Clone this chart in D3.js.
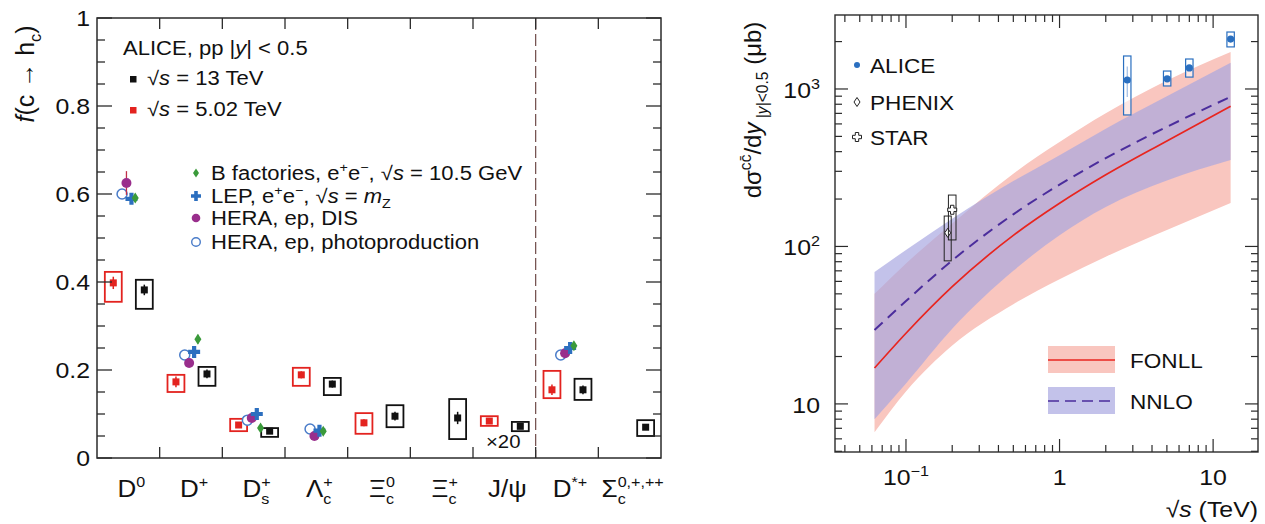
<!DOCTYPE html>
<html>
<head>
<meta charset="utf-8">
<script src="https://cdn.jsdelivr.net/npm/d3@7"></script>
<style>
  body { margin: 0; background: #fff; }
  svg { display: block; }
  text { font-family: "Liberation Sans", Arial, Helvetica, sans-serif; fill: #111; }
</style>
</head>
<body>
<svg id="chart" width="1265" height="524"></svg>
<script>
// ---------------- Left panel: charm fragmentation fractions ----------------
const hadrons = ["D0", "D+", "Ds+", "Lc+", "Xic0", "Xic+", "Jpsi", "D*+", "Sc"];

// ALICE pp 13 TeV: value, systematic box upper / lower edge, statistical error
const alice13     = [0.382, 0.191, 0.061, 0.168, 0.095, 0.091, 0.072, 0.155, 0.070];
const alice13SysH = [0.405, 0.207, 0.068, 0.182, 0.120, 0.134, 0.082, 0.180, 0.086];
const alice13SysL = [0.339, 0.164, 0.048, 0.143, 0.070, 0.043, 0.061, 0.132, 0.050];
const alice13Stat = [0.012, 0.010, 0.004, 0.008, 0.010, 0.014, 0.004, 0.010, 0.006];

// ALICE pp 5.02 TeV (no Xi_c+ and Sigma_c measurements)
const alice5      = [0.398, 0.173, 0.075, 0.189, 0.080, null, 0.084, 0.155, null];
const alice5SysH  = [0.423, 0.189, 0.089, 0.205, 0.102, null, 0.095, 0.198, null];
const alice5SysL  = [0.355, 0.150, 0.061, 0.164, 0.055, null, 0.073, 0.136, null];
const alice5Stat  = [0.014, 0.012, 0.004, 0.008, 0.008, null, 0.004, 0.012, null];

// e+e- and ep reference measurements
const bFactories  = [0.591, 0.270, 0.068, 0.061, null, null, null, 0.255, null];
const bFactErr    = [0.006, 0.010, 0.004, 0.004, null, null, null, 0.006, null];
const lepZ        = [0.589, 0.241, 0.100, 0.062, null, null, null, 0.250, null];
const lepErr      = [0.008, 0.008, 0.006, 0.005, null, null, null, 0.006, null];
const heraDIS     = [0.625, 0.216, 0.091, 0.050, null, null, null, 0.238, null];
const heraDISErr  = [0.027, 0.008, 0.006, 0.006, null, null, null, 0.006, null];
const heraPhoto   = [0.600, 0.234, 0.086, 0.066, null, null, null, 0.234, null];
const heraPhErr   = [0.006, 0.006, 0.004, 0.005, null, null, null, 0.006, null];

const yTickLabels = ["0", "0.2", "0.4", "0.6", "0.8", "1"];

// ---------------- Right panel: charm production cross section ----------------
const sqrtS        = [0.0624, 0.1, 0.2, 0.5, 1, 2, 5, 13];
const fonllCentral = [16.9, 28.1, 55.5, 117.5, 188, 285, 468, 778];
const fonllUpper   = [50, 78, 140, 290, 460, 700, 1130, 1718];
const fonllLower   = [6.6, 12, 23.5, 43, 62, 86, 127, 189];
const nnloCentral  = [29.5, 45, 81.5, 160, 247, 364, 575, 891];
const nnloUpper    = [68.8, 95, 150, 260, 380, 560, 900, 1470];
const nnloLower    = [8, 13.5, 30, 70, 118, 178, 262, 354];

const aliceEnergy  = [2.76, 5.02, 7, 13];
const aliceXsec    = [1140, 1160, 1360, 2076];
const aliceSysHi   = [1620, 1300, 1550, 2300];
const aliceSysLo   = [684, 1045, 1190, 1850];
const aliceStatErr = [250, 40, 60, 80];

const phenixEnergy = [0.2], phenixXsec = [122], phenixSysHi = [156], phenixSysLo = [81];
const starEnergy   = [0.2], starXsec   = [171], starSysHi   = [212], starSysLo   = [110];

// ---------------- helpers ----------------
const SX = 1.13;      // horizontal text stretch
const svg = d3.select("#chart");
const INK = "#2b2b2b";

// rich text: parts = [[string, kind]], kind in "", "i", "sup", "sub", "subi"
function rich(g, x, y, parts, opt) {
  const size = opt.size;
  const tr = opt.rotate ? `translate(${x},${y}) rotate(-90)` : `translate(${x},${y}) scale(${opt.sx ?? SX},1)`;
  const t = g.append("text").attr("transform", tr)
    .attr("font-size", size).attr("text-anchor", opt.anchor || "start");
  let cur = 0;
  parts.forEach(([s, k]) => {
    const target = k === "sup" ? -0.42 * size : (k === "sub" || k === "subi") ? 0.28 * size : 0;
    const ts = t.append("tspan").text(s).attr("dy", target - cur);
    cur = target;
    if (k === "sup" || k === "sub" || k === "subi") ts.attr("font-size", 0.65 * size);
    if (k === "i" || k === "subi") ts.attr("font-style", "italic");
  });
  return t;
}

// label with stacked subscript and superscript after a base symbol
function hadronLabel(g, x, y, base, sup, sub, size) {
  const t = g.append("text").attr("transform", `translate(${x},${y}) scale(${SX},1)`)
    .attr("font-size", size).attr("text-anchor", "middle");
  t.append("tspan").text(base);
  let subW = 0;
  if (sub) {
    const s = t.append("tspan").text(sub).attr("font-size", size * 0.62).attr("dy", size * 0.3);
    subW = s.node().getComputedTextLength();
  }
  if (sup) {
    t.append("tspan").text(sup).attr("font-size", size * 0.62)
      .attr("dy", sub ? -size * 0.72 : -size * 0.42)
      .attr("dx", sub ? -subW : 0);
  }
  return t;
}

const diamondPath = (w, h) => `M0,${-h/2} L${w/2},0 L0,${h/2} L${-w/2},0 Z`;
const crossPath = (s, a) => `M${-a},${-s} H${a} V${-a} H${s} V${a} H${a} V${s} H${-a} V${a} H${-s} V${-a} H${-a} Z`;

// ================= LEFT PANEL =================
const L = { left: 97, right: 661, top: 18, bottom: 458 };
const xb = d3.scaleBand().domain(hadrons).range([L.left, L.right]);
const yf = d3.scaleLinear().domain([0, 1]).range([L.bottom, L.top]);
const bw = xb.bandwidth();
const cx = (i, f) => xb(hadrons[i]) + bw / 2 + f * bw;
const gl = svg.append("g");

// separator between ground-state hadrons and D*+ / Sigma_c
gl.append("line")
  .attr("x1", xb("D*+")).attr("x2", xb("D*+"))
  .attr("y1", L.top).attr("y2", L.bottom)
  .attr("stroke", "#6e4a48").attr("stroke-width", 1.2).attr("stroke-dasharray", "12,4");

// ALICE boxes and points
function aliceSeries(vals, hi, lo, st, color, f) {
  vals.forEach((v, i) => {
    if (v == null) return;
    const x = cx(i, f);
    gl.append("rect").attr("x", x - bw * 0.135).attr("width", bw * 0.27)
      .attr("y", yf(hi[i])).attr("height", yf(lo[i]) - yf(hi[i]))
      .attr("fill", "none").attr("stroke", color).attr("stroke-width", 1.8);
    gl.append("line").attr("x1", x).attr("x2", x)
      .attr("y1", yf(v + st[i])).attr("y2", yf(v - st[i]))
      .attr("stroke", color).attr("stroke-width", 1.5);
    gl.append("rect").attr("x", x - 3.5).attr("y", yf(v) - 3.5)
      .attr("width", 7).attr("height", 7).attr("fill", color);
  });
}
aliceSeries(alice5, alice5SysH, alice5SysL, alice5Stat, "#e3231f", -0.24);
aliceSeries(alice13, alice13SysH, alice13SysL, alice13Stat, "#111111", 0.255);

// reference measurements
function refSeries(vals, errs, f, color, draw) {
  vals.forEach((v, i) => {
    if (v == null) return;
    const x = cx(i, f);
    gl.append("line").attr("x1", x).attr("x2", x)
      .attr("y1", yf(v + errs[i])).attr("y2", yf(v - errs[i]))
      .attr("stroke", color).attr("stroke-width", 1.3);
    draw(gl.append("g").attr("transform", `translate(${x},${yf(v)})`));
  });
}
const C_B = "#3a9a3a", C_LEP = "#2c6fbf", C_DIS = "#992e8c", C_PH = "#4a7cc9";
refSeries(heraPhoto, heraPhErr, -0.1, C_PH, g => g.append("circle").attr("r", 5)
  .attr("fill", "#fff").attr("stroke", C_PH).attr("stroke-width", 1.5));
refSeries(heraDIS, heraDISErr, -0.03, "#c0304a", g => g.append("circle").attr("r", 5).attr("fill", C_DIS));
refSeries(lepZ, lepErr, 0.05, C_LEP, g => g.append("path").attr("d", crossPath(6, 2.1)).attr("fill", C_LEP));
refSeries(bFactories, bFactErr, 0.11, C_B, g => g.append("path").attr("d", diamondPath(7, 11)).attr("fill", C_B));

// frame
gl.append("rect").attr("x", L.left).attr("y", L.top)
  .attr("width", L.right - L.left).attr("height", L.bottom - L.top)
  .attr("fill", "none").attr("stroke", INK).attr("stroke-width", 1.5);

// y ticks (both sides)
d3.range(0, 21).map(k => k * 0.05).forEach(v => {
  const major = Math.abs(v * 5 - Math.round(v * 5)) < 1e-6;
  const len = major ? 15 : 8;
  const y = yf(v);
  gl.append("line").attr("x1", L.left).attr("x2", L.left + len).attr("y1", y).attr("y2", y)
    .attr("stroke", INK).attr("stroke-width", 1.3);
  gl.append("line").attr("x1", L.right).attr("x2", L.right - len).attr("y1", y).attr("y2", y)
    .attr("stroke", INK).attr("stroke-width", 1.3);
});
yf.ticks(5).forEach((v, i) => {
  rich(gl, 90, yf(v) + 8, [[yTickLabels[i], ""]], { size: 22, anchor: "end" });
});
// x ticks at category boundaries
hadrons.slice(1).forEach(h => {
  const x = xb(h);
  gl.append("line").attr("x1", x).attr("x2", x).attr("y1", L.bottom).attr("y2", L.bottom - 11)
    .attr("stroke", INK).attr("stroke-width", 1.3);
  gl.append("line").attr("x1", x).attr("x2", x).attr("y1", L.top).attr("y2", L.top + 11)
    .attr("stroke", INK).attr("stroke-width", 1.3);
});

// category labels
const labelParts = {
  "D0": ["D", "0", null], "D+": ["D", "+", null], "Ds+": ["D", "+", "s"],
  "Lc+": ["Λ", "+", "c"], "Xic0": ["Ξ", "0", "c"], "Xic+": ["Ξ", "+", "c"],
  "Jpsi": ["J/ψ", null, null], "D*+": ["D", "*+", null], "Sc": ["Σ", "0,+,++", "c"]
};
hadrons.forEach(h => {
  const [b, sp, sb] = labelParts[h];
  hadronLabel(gl, xb(h) + bw / 2 + 3, 497, b, sp, sb, 23);
});

// y-axis title
rich(gl, 34, 74, [["f", "i"], ["(c → h", ""], ["c", "sub"], [")", ""]], { size: 25, anchor: "middle", rotate: true });

// J/psi scale note
rich(gl, 486, 448, [["×20", ""]], { size: 18 });

// legends
rich(gl, 123, 55, [["ALICE, pp |", ""], ["y", "i"], ["| < 0.5", ""]], { size: 19.5 });
gl.append("rect").attr("x", 130).attr("y", 76).attr("width", 6.5).attr("height", 6.5).attr("fill", "#111");
rich(gl, 147, 85, [["√", ""], ["s", "i"], [" = 13 TeV", ""]], { size: 19.5 });
gl.append("rect").attr("x", 130).attr("y", 107).attr("width", 6.5).attr("height", 6.5).attr("fill", "#e3231f");
rich(gl, 147, 116, [["√", ""], ["s", "i"], [" = 5.02 TeV", ""]], { size: 19.5 });

const lg = gl.append("g");
lg.append("path").attr("d", diamondPath(6, 9)).attr("transform", "translate(196,173)").attr("fill", C_B);
rich(lg, 211, 180, [["B factories, e", ""], ["+", "sup"], ["e", ""], ["−", "sup"], [", √", ""], ["s", "i"], [" = 10.5 GeV", ""]], { size: 19.5 });
lg.append("path").attr("d", crossPath(5, 1.8)).attr("transform", "translate(196,196)").attr("fill", C_LEP);
rich(lg, 211, 203, [["LEP, e", ""], ["+", "sup"], ["e", ""], ["−", "sup"], [", √", ""], ["s", "i"], [" = ", ""], ["m", "i"], ["Z", "sub"]], { size: 19.5 });
lg.append("circle").attr("cx", 196).attr("cy", 218).attr("r", 4.3).attr("fill", C_DIS);
rich(lg, 211, 225, [["HERA, ep, DIS", ""]], { size: 19.5 });
lg.append("circle").attr("cx", 196).attr("cy", 242).attr("r", 4.3).attr("fill", "#fff")
  .attr("stroke", C_PH).attr("stroke-width", 1.4);
rich(lg, 211, 249, [["HERA, ep, photoproduction", ""]], { size: 19.5 });

// ================= RIGHT PANEL =================
const R = { left: 835, right: 1258, top: 15, bottom: 452 };
const xs = d3.scaleLog().domain([0.0345, 19.6]).range([R.left, R.right]);
const ys = d3.scaleLog().domain([4.95, 2950]).range([R.bottom, R.top]);
const gr = svg.append("g");

const band = (up, lo) => d3.area()
  .x((d, i) => xs(sqrtS[i])).y0((d, i) => ys(lo[i])).y1((d, i) => ys(up[i]))
  .curve(d3.curveMonotoneX)(sqrtS);
const curve = vals => d3.line()
  .x((d, i) => xs(sqrtS[i])).y((d, i) => ys(vals[i]))
  .curve(d3.curveMonotoneX)(sqrtS);

const FONLL_FILL = "#f9c6bf", NNLO_FILL = "#a6a5e0", NNLO_OP = 0.68;
gr.append("path").attr("d", band(fonllUpper, fonllLower)).attr("fill", FONLL_FILL);
gr.append("path").attr("d", band(nnloUpper, nnloLower)).attr("fill", NNLO_FILL).attr("fill-opacity", NNLO_OP);
gr.append("path").attr("d", curve(fonllCentral)).attr("fill", "none")
  .attr("stroke", "#e8251f").attr("stroke-width", 1.7);
gr.append("path").attr("d", curve(nnloCentral)).attr("fill", "none")
  .attr("stroke", "#4b2d9c").attr("stroke-width", 2).attr("stroke-dasharray", "11,7");

// ALICE measurements
const C_AL = "#2a6fc0";
aliceEnergy.forEach((e, i) => {
  const x = xs(e);
  gr.append("rect").attr("x", x - 3.7).attr("width", 7.4)
    .attr("y", ys(aliceSysHi[i])).attr("height", ys(aliceSysLo[i]) - ys(aliceSysHi[i]))
    .attr("fill", "#fff").attr("fill-opacity", 0.6).attr("stroke", C_AL).attr("stroke-width", 1.2);
  gr.append("line").attr("x1", x).attr("x2", x)
    .attr("y1", ys(aliceXsec[i] + aliceStatErr[i])).attr("y2", ys(aliceXsec[i] - aliceStatErr[i]))
    .attr("stroke", "#9dbbe3").attr("stroke-width", 1.2);
  gr.append("circle").attr("cx", x).attr("cy", ys(aliceXsec[i])).attr("r", 3.6).attr("fill", C_AL);
});
// PHENIX and STAR
phenixEnergy.forEach((e, i) => {
  const x = xs(e) - 4.5;
  gr.append("rect").attr("x", x - 3.5).attr("width", 7)
    .attr("y", ys(phenixSysHi[i])).attr("height", ys(phenixSysLo[i]) - ys(phenixSysHi[i]))
    .attr("fill", "none").attr("stroke", "#222").attr("stroke-width", 1);
  gr.append("path").attr("d", diamondPath(6, 9)).attr("transform", `translate(${x},${ys(phenixXsec[i])})`)
    .attr("fill", "#fff").attr("stroke", "#222").attr("stroke-width", 1);
});
starEnergy.forEach((e, i) => {
  const x = xs(e);
  gr.append("rect").attr("x", x - 3.8).attr("width", 7.6)
    .attr("y", ys(starSysHi[i])).attr("height", ys(starSysLo[i]) - ys(starSysHi[i]))
    .attr("fill", "none").attr("stroke", "#222").attr("stroke-width", 1);
  gr.append("path").attr("d", crossPath(4.5, 1.7)).attr("transform", `translate(${x},${ys(starXsec[i])})`)
    .attr("fill", "#fff").attr("stroke", "#222").attr("stroke-width", 1);
});

// frame
gr.append("rect").attr("x", R.left).attr("y", R.top)
  .attr("width", R.right - R.left).attr("height", R.bottom - R.top)
  .attr("fill", "none").attr("stroke", INK).attr("stroke-width", 1.4);

const isDecade = v => Math.abs(Math.log10(v) - Math.round(Math.log10(v))) < 1e-6;
xs.ticks().forEach(v => {
  const x = xs(v), len = isDecade(v) ? 13 : 7;
  gr.append("line").attr("x1", x).attr("x2", x).attr("y1", R.bottom).attr("y2", R.bottom - len)
    .attr("stroke", INK).attr("stroke-width", 1.2);
  gr.append("line").attr("x1", x).attr("x2", x).attr("y1", R.top).attr("y2", R.top + len)
    .attr("stroke", INK).attr("stroke-width", 1.2);
});
ys.ticks().forEach(v => {
  const y = ys(v), len = isDecade(v) ? 13 : 7;
  gr.append("line").attr("x1", R.left).attr("x2", R.left + len).attr("y1", y).attr("y2", y)
    .attr("stroke", INK).attr("stroke-width", 1.2);
  gr.append("line").attr("x1", R.right).attr("x2", R.right - len).attr("y1", y).attr("y2", y)
    .attr("stroke", INK).attr("stroke-width", 1.2);
});

// tick labels
const xTickLabels = [[0.1, [["10", ""], ["−1", "sup"]]], [1, [["1", ""]]], [10, [["10", ""]]]];
xTickLabels.forEach(([v, parts]) => rich(gr, xs(v), 485, parts, { size: 22, anchor: "middle" }));
const yTickLabelsR = [[10, [["10", ""]]], [100, [["10", ""], ["2", "sup"]]], [1000, [["10", ""], ["3", "sup"]]]];
yTickLabelsR.forEach(([v, parts]) => rich(gr, 820, ys(v) + 9, parts, { size: 22, anchor: "end" }));

// axis titles
rich(gr, 1258, 517, [["√", ""], ["s", "i"], [" (TeV)", ""]], { size: 22, anchor: "end" });
rich(gr, 761, 110, [["dσ", ""], ["cc̄", "sup"], ["/d", ""], ["y", "i"], [" |", "sub"], ["y", "subi"], ["|<0.5", "sub"], ["  (μb)", ""]],
  { size: 24, anchor: "middle", rotate: true });

// legend: data
gr.append("circle").attr("cx", 857).attr("cy", 65).attr("r", 3).attr("fill", C_AL);
rich(gr, 870, 73, [["ALICE", ""]], { size: 20 });
gr.append("path").attr("d", diamondPath(6, 9)).attr("transform", "translate(857,102)")
  .attr("fill", "#fff").attr("stroke", "#222").attr("stroke-width", 1);
rich(gr, 870, 110, [["PHENIX", ""]], { size: 20 });
gr.append("path").attr("d", crossPath(4.5, 1.7)).attr("transform", "translate(857,137)")
  .attr("fill", "#fff").attr("stroke", "#222").attr("stroke-width", 1);
rich(gr, 870, 145, [["STAR", ""]], { size: 20 });

// legend: models
gr.append("rect").attr("x", 1048).attr("y", 346).attr("width", 67).attr("height", 27).attr("fill", FONLL_FILL);
gr.append("line").attr("x1", 1048).attr("x2", 1115).attr("y1", 360).attr("y2", 360)
  .attr("stroke", "#e8251f").attr("stroke-width", 1.7);
rich(gr, 1130, 368, [["FONLL", ""]], { size: 20 });
gr.append("rect").attr("x", 1048).attr("y", 387).attr("width", 67).attr("height", 27)
  .attr("fill", NNLO_FILL).attr("fill-opacity", NNLO_OP);
gr.append("line").attr("x1", 1048).attr("x2", 1115).attr("y1", 401).attr("y2", 401)
  .attr("stroke", "#4b2d9c").attr("stroke-width", 1.7).attr("stroke-dasharray", "11,6");
rich(gr, 1130, 409, [["NNLO", ""]], { size: 20 });
</script>
</body>
</html>
